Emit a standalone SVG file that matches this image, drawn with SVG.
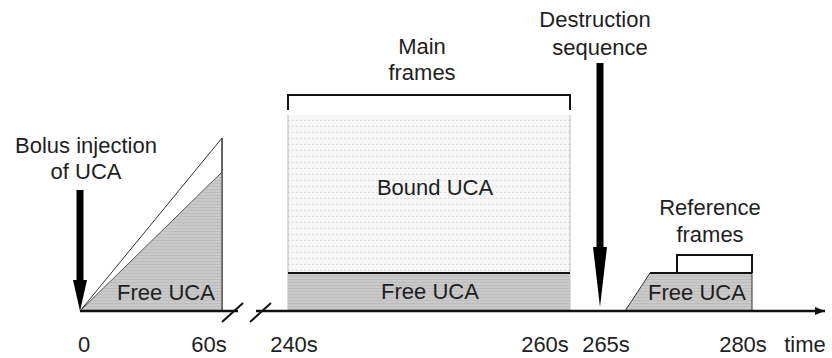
<svg xmlns="http://www.w3.org/2000/svg" width="832" height="358" viewBox="0 0 832 358">
<style>
text{font-family:"Liberation Sans",Arial,sans-serif;font-size:22px;fill:#1e1e1e;text-anchor:middle}
.ln{stroke:#111;stroke-width:2;fill:none}
.thin{stroke:#333;stroke-width:1;fill:none}
.gray{fill:url(#gp)}
.light{fill:url(#lp)}
</style>
<defs>
<pattern id="gp" width="4" height="3" patternUnits="userSpaceOnUse">
<rect width="4" height="3" fill="#c9c9c9"/>
<rect width="4" height="1" fill="#bdbdbd"/>
</pattern>
<pattern id="lp" width="4" height="6" patternUnits="userSpaceOnUse">
<rect width="4" height="6" fill="#f7f7f7"/>
<rect width="2" height="1" fill="#dddddd"/>
</pattern>
<marker id="ah" viewBox="0 0 10 10" refX="10" refY="5" markerWidth="10" markerHeight="10" markerUnits="userSpaceOnUse" orient="auto">
<path d="M0,1 L10,5 L0,9 Z" fill="#111"/>
</marker>
</defs>

<g id="bolus">
<text x="86" y="153">Bolus injection</text>
<text x="86" y="179">of UCA</text>
<rect x="76.5" y="190" width="7" height="92" fill="#000"/>
<path d="M73,280 L87,280 L80,311 Z" fill="#000"/>
</g>

<g id="ramp">
<path d="M80,311 L222,138 L222,311 Z" fill="#fff" class="thin"/>
<path d="M80,311 L222,172 L222,311 Z" class="gray"/>
<line x1="80" y1="311" x2="222" y2="172" stroke="#555" stroke-width="1"/>
<line x1="222" y1="138" x2="222" y2="311" class="thin"/>
<text x="166" y="300">Free UCA</text>
</g>

<g id="main-frames">
<path d="M288,110 L288,95 L570,95 L570,110" class="ln"/>
<text x="422" y="54">Main</text>
<text x="422" y="80">frames</text>
</g>

<g id="bound">
<rect x="288" y="115" width="282" height="158" class="light"/>
<line x1="288" y1="115" x2="288" y2="311" stroke="#bbb" stroke-width="1"/>
<line x1="570" y1="115" x2="570" y2="311" stroke="#bbb" stroke-width="1"/>
<text x="435" y="195">Bound UCA</text>
</g>

<g id="free-main">
<rect x="288" y="273" width="282" height="38" class="gray"/>
<line x1="288" y1="273" x2="570" y2="273" class="ln"/>
<text x="430" y="299">Free UCA</text>
</g>

<g id="destruction">
<text x="595" y="27">Destruction</text>
<text x="600" y="55">sequence</text>
<rect x="596.5" y="63" width="7" height="186" fill="#000"/>
<path d="M593,247 L607,247 L600,307 Z" fill="#000"/>
</g>

<g id="reference">
<path d="M625,311 L650,273 L752,273 L752,311 Z" class="gray"/>
<path d="M625,311 L650,273 L752,273 L752,311" class="thin"/>
<line x1="650" y1="273" x2="752" y2="273" class="ln"/>
<path d="M677,273 L677,255 L752,255 L752,273" class="ln"/>
<text x="710" y="215">Reference</text>
<text x="710" y="242">frames</text>
<text x="697" y="300">Free UCA</text>
</g>

<g id="connectors">
<line x1="80" y1="311" x2="238" y2="311" stroke="#111" stroke-width="2.5"/>
<line x1="256" y1="311" x2="825" y2="311" stroke="#111" stroke-width="2.5" marker-end="url(#ah)"/>
<line x1="222" y1="322" x2="243" y2="303" stroke="#111" stroke-width="2"/>
<line x1="250" y1="322" x2="271" y2="303" stroke="#111" stroke-width="2"/>
</g>

<g id="axis-labels">
<text x="84" y="352">0</text>
<text x="209" y="352">60s</text>
<text x="294" y="352">240s</text>
<text x="545" y="352">260s</text>
<text x="606" y="352">265s</text>
<text x="743" y="352">280s</text>
<text x="805" y="352">time</text>
</g>
</svg>
